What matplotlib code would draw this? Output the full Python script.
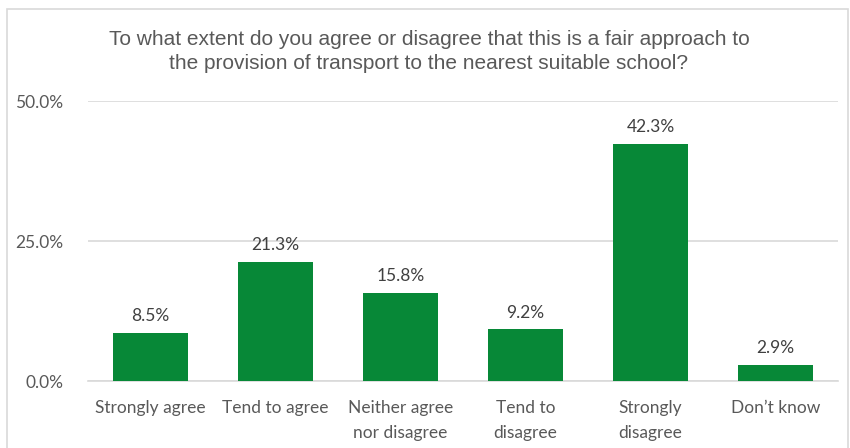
import matplotlib.pyplot as plt
from matplotlib.patches import Rectangle

categories = ['Strongly agree', 'Tend to agree', 'Neither agree\nnor disagree',
              'Tend to\ndisagree', 'Strongly\ndisagree', 'Don\u2019t know']
values = [8.5, 21.3, 15.8, 9.2, 42.3, 2.9]
y_ticks = [0, 25, 50]
title_lines = ['To what extent do you agree or disagree that this is a fair approach to',
               'the provision of transport to the nearest suitable school?']

GREEN = '#078837'
GREY = '#595959'
LABEL_FONT = ['Lato', 'DejaVu Sans']
TITLE_FONT = ['Liberation Sans', 'DejaVu Sans']


def main():
    fig = plt.figure(figsize=(8.5, 4.48), dpi=100)
    fig.patches.append(Rectangle((7 / 850, -0.1), 841 / 850, 1.1 - 9 / 448,
                                 transform=fig.transFigure, fill=False,
                                 edgecolor='#d9d9d9', linewidth=1.2))

    ax = fig.add_axes([88 / 850, 1 - 381 / 448, 750 / 850, 280 / 448])
    x = range(len(categories))
    bars = ax.bar(x, values, width=0.6, color=GREEN, zorder=3)

    for b, v in zip(bars, values):
        ax.text(b.get_x() + b.get_width() / 2, v + 1.6, f'{v:.1f}%',
                ha='center', va='bottom', fontsize=12.5, color='#404040',
                family=LABEL_FONT)

    ax.set_xlim(-0.5, len(categories) - 0.5)
    ax.set_ylim(0, 50)
    ax.set_yticks(y_ticks)
    ax.set_yticklabels([f'{t:.1f}%' for t in y_ticks], family=LABEL_FONT,
                       fontsize=12.5, color=GREY)
    ax.set_xticks(list(x))
    ax.set_xticklabels(categories, family=LABEL_FONT, fontsize=12.5,
                       color=GREY, linespacing=1.65, va='top')
    ax.tick_params(axis='both', length=0)
    ax.tick_params(axis='x', pad=14)
    ax.tick_params(axis='y', pad=18)
    ax.grid(axis='y', color='#d9d9d9', linewidth=1.2, zorder=0)
    for side in ['top', 'right', 'left']:
        ax.spines[side].set_visible(False)
    ax.spines['bottom'].set_color('#d9d9d9')
    ax.spines['bottom'].set_linewidth(1.2)

    # two title lines placed on their own baselines
    for line, base in zip(title_lines, [45, 69]):
        fig.text(429 / 850, 1 - base / 448, line, ha='center', va='baseline',
                 fontsize=15, color=GREY, family=TITLE_FONT)

    fig.savefig('out.png', dpi=100)


if __name__ == "__main__":
    main()
